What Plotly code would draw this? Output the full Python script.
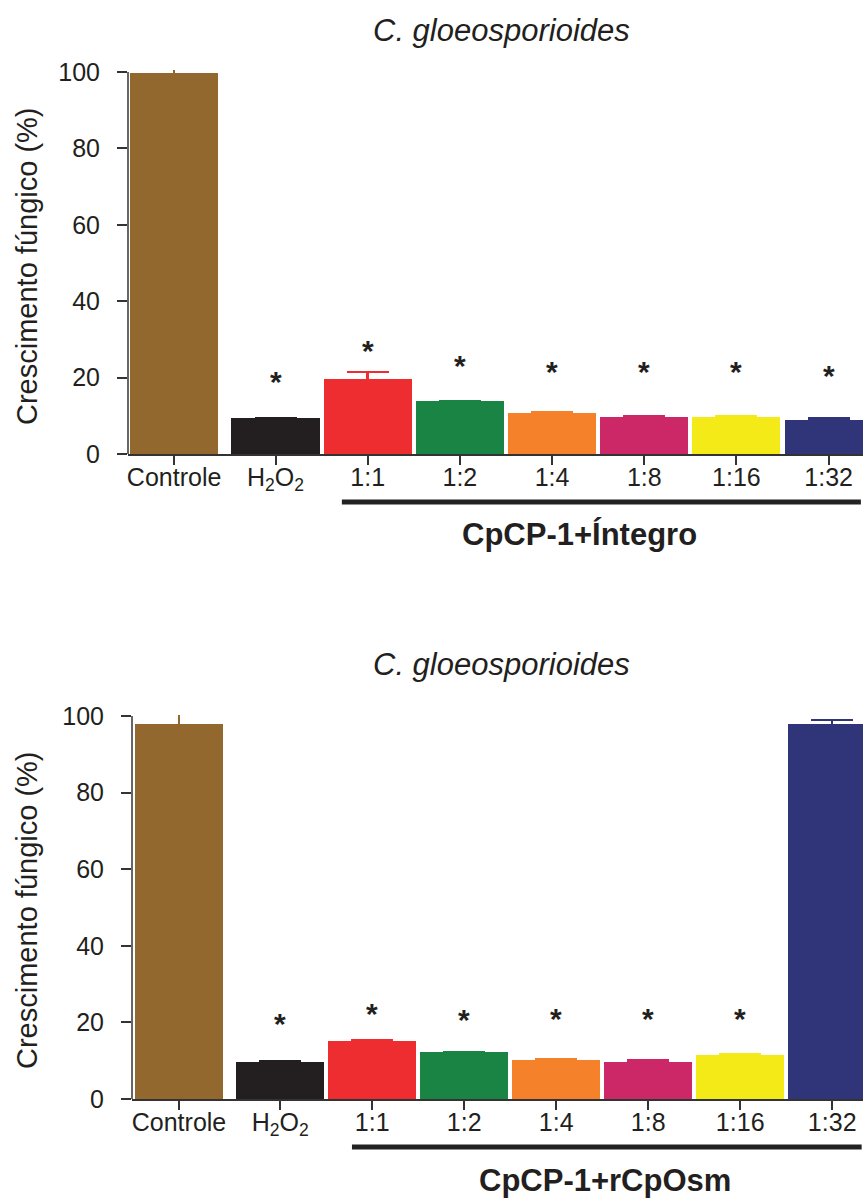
import plotly.graph_objects as go

# ---- data ----
categories = ["Controle", "H<sub>2</sub>O<sub>2</sub>", "1:1", "1:2", "1:4", "1:8", "1:16", "1:32"]
top_values = [99.6, 9.3, 19.6, 13.7, 10.7, 9.6, 9.5, 8.9]
top_errors = [1.0, 0.1, 1.9, 0.2, 0.3, 0.3, 0.4, 0.4]
top_stars = [None, 19.6, 27.7, 23.8, 22.0, 22.0, 22.0, 21.2]
bottom_values = [97.9, 9.7, 15.0, 12.2, 10.2, 9.7, 11.5, 97.8]
bottom_errors = [2.4, 0.1, 0.4, 0.1, 0.1, 0.4, 0.3, 1.2]
bottom_stars = [None, 20.2, 22.8, 21.3, 21.5, 21.5, 21.5, None]
yticks = [0, 20, 40, 60, 80, 100]

title_text = "C. gloeosporioides"
ytitle_text = "Crescimento fúngico (%)"
group_top = "CpCP-1+Íntegro"
group_bottom = "CpCP-1+rCpOsm"

colors = ["#93682F", "#231F20", "#EE2D31", "#1A8444", "#F5822B", "#CC2867", "#F3EA17", "#303478"]

# category positions (first gap slightly wider)
positions = [0.0] + [1.1 + i for i in range(len(categories) - 1)]

W, H = 863, 1199
FONT = "Arial, Liberation Sans, Helvetica, sans-serif"
TXT = "#231F20"

fig = go.Figure()

def add_panel(values, errors, stars, xa, ya):
    for i, (cat, v, e) in enumerate(zip(categories, values, errors)):
        cap = 0 if i == 0 else 21
        thick = 1.5 if i == 0 else 2.5
        fig.add_trace(go.Bar(
            x=[positions[i]], y=[v], width=0.955,
            marker=dict(color=colors[i], line=dict(width=0)),
            error_y=dict(type="data", array=[e], color=colors[i], thickness=thick, width=cap),
            xaxis=xa, yaxis=ya, showlegend=False, hoverinfo="skip"))
    for i, s in enumerate(stars):
        if s is None:
            continue
        fig.add_annotation(x=positions[i], y=s, xref=xa, yref=ya, text="<b>*</b>",
                           showarrow=False, xanchor="center", yanchor="middle", yshift=-2,
                           font=dict(family=FONT, size=30, color=TXT))

add_panel(top_values, top_errors, top_stars, "x", "y")
add_panel(bottom_values, bottom_errors, bottom_stars, "x2", "y2")

def paper_y(pix):
    return 1 - pix / H

axis_common = dict(showgrid=False, zeroline=False, ticks="outside",
                   tickcolor="#333333", tickwidth=1.5, automargin=False,
                   tickfont=dict(family=FONT, size=25, color=TXT))

xa_common = dict(axis_common, tickvals=positions, ticktext=categories, ticklen=9,
                 showline=True, linecolor="#333333", linewidth=1.5, ticklabelstandoff=-9)
ya_common = dict(axis_common, tickvals=yticks, ticklen=10, showline=False,
                 range=[0, 102], ticklabelstandoff=12)

# top panel: y=0 at 454 px, 3.82 px/unit ; x axis starts at 128 px, 92.2 px/unit
top_px_unit = 3.82
fig.update_layout(
    xaxis=dict(xa_common, domain=[128 / W, 1], range=[-0.5, (863 - 174) / 92.2], anchor="y"),
    yaxis=dict(ya_common, domain=[paper_y(454), paper_y(454 - 102 * top_px_unit)], anchor="x"),
)
# bottom panel: y=0 at 1099 px, 3.83 px/unit ; x axis starts at 132 px, 92 px/unit
bot_px_unit = 3.83
fig.update_layout(
    xaxis2=dict(xa_common, domain=[132 / W, 1], range=[-0.511, (863 - 179) / 92.0], anchor="y2"),
    yaxis2=dict(ya_common, domain=[paper_y(1099), paper_y(1099 - 102 * bot_px_unit)], anchor="x2"),
)

# y axis lines (only up to 100)
for xa, ya in (("x", "y"), ("x2", "y2")):
    fig.add_shape(type="line", xref=xa + " domain", yref=ya, x0=0, x1=0, y0=0, y1=100,
                  line=dict(color="#333333", width=1.5))

# group bars
fig.add_shape(type="line", xref="x", yref="paper", x0=positions[2] - 0.28, x1=7.45,
              y0=paper_y(502), y1=paper_y(502), line=dict(color="#222222", width=5))
fig.add_shape(type="line", xref="x2", yref="paper", x0=positions[2] - 0.22, x1=7.42,
              y0=paper_y(1147), y1=paper_y(1147), line=dict(color="#222222", width=5))

def label(x, y, text, size, angle=0, **fkw):
    fig.add_annotation(x=x / W, y=paper_y(y), xref="paper", yref="paper", text=text,
                       textangle=angle, showarrow=False, xanchor="center", yanchor="middle",
                       font=dict(family=FONT, size=size, color=TXT, **fkw))

# titles and labels
label(501, 31, title_text, 31, style="italic")
label(501, 664, title_text, 31, style="italic")
label(27, 266, ytitle_text, 29, angle=-90)
label(27, 910, ytitle_text, 29, angle=-90)
label(579, 534, "<b>" + group_top + "</b>", 31)
label(605, 1180, "<b>" + group_bottom + "</b>", 31)

fig.update_layout(width=W, height=H, margin=dict(l=0, r=0, t=0, b=0, autoexpand=False),
                  paper_bgcolor="white", plot_bgcolor="white", bargap=0)

fig.write_html("out.html", config={"displayModeBar": False},
               post_script="document.body.style.margin='0';document.body.style.overflow='hidden';")
